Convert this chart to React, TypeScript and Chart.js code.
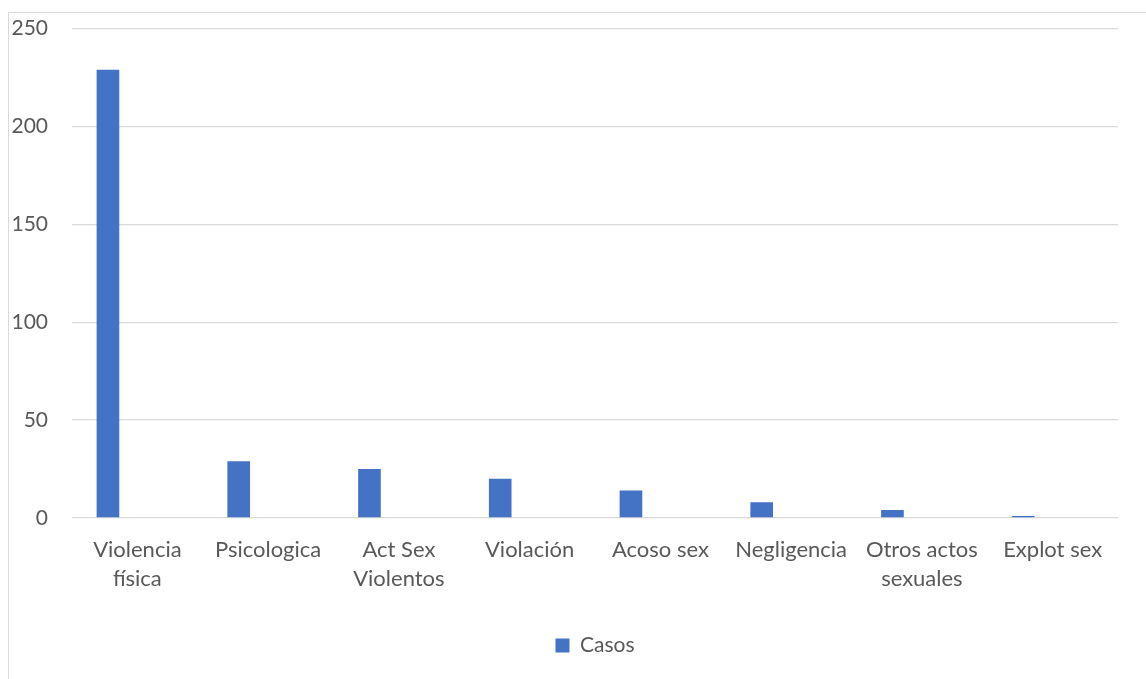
import React, { useEffect, useRef } from "react";
import { Chart, registerables } from "chart.js";

Chart.register(...registerables);

const categories: (string | string[])[] = [
  ["Violencia", "física"],
  "Psicologica",
  ["Act Sex", "Violentos"],
  "Violación",
  "Acoso sex",
  "Negligencia",
  ["Otros actos", "sexuales"],
  "Explot sex",
];
const casos: number[] = [229, 29, 25, 20, 14, 8, 4, 1];
const emptySeries: (number | null)[] = [null, null, null, null, null, null, null, null];
const yTicks: number[] = [0, 50, 100, 150, 200, 250];

const FONT = "Lato, sans-serif";
const TEXT = "#595959";
const GRID = "#d9d9d9";

export default function App() {
  const ref = useRef<HTMLCanvasElement>(null);
  useEffect(() => {
    if (!ref.current) return;
    const chart = new Chart(ref.current, {
      type: "bar",
      data: {
        labels: categories,
        datasets: [
          {
            label: "Casos",
            data: casos,
            backgroundColor: "#4472c4",
            borderWidth: 0,
            categoryPercentage: 0.9,
            barPercentage: 0.385,
          },
          {
            label: "",
            data: emptySeries,
            backgroundColor: "#ed7d31",
            categoryPercentage: 0.9,
            barPercentage: 0.385,
          },
        ],
      },
      options: {
        animation: false,
        responsive: false,
        maintainAspectRatio: false,
        layout: { padding: { top: 0, right: 28, left: 0, bottom: 13 } },
        plugins: {
          tooltip: { enabled: false },
          legend: {
            position: "bottom",
            fullSize: false,
            labels: {
              filter: (item) => item.text !== "",
              boxWidth: 14,
              boxHeight: 14,
              color: TEXT,
              font: { family: FONT, size: 21 },
              padding: 33,
            },
          },
        },
        scales: {
          x: {
            grid: { display: false },
            border: { display: false },
            ticks: {
              color: TEXT,
              font: { family: FONT, size: 22, lineHeight: 1.32 },
              maxRotation: 0,
              autoSkip: false,
              padding: 9,
            },
          },
          y: {
            min: 0,
            max: 250,
            afterFit: (s: any) => {
              s.width = 63;
            },
            afterBuildTicks: (s: any) => {
              s.ticks = yTicks.map((v) => ({ value: v }));
            },
            grid: { color: GRID, lineWidth: 1.3, drawTicks: false },
            border: { display: false },
            ticks: {
              color: TEXT,
              font: { family: FONT, size: 21 },
              padding: 24,
            },
          },
        },
      },
    });
    return () => chart.destroy();
  }, []);
  return (
    <div
      style={{
        position: "fixed",
        left: 8,
        top: 12,
        width: 1138,
        height: 667,
        borderLeft: `1px solid ${GRID}`,
        borderTop: `1px solid ${GRID}`,
        background: "#fff",
      }}
    >
      <canvas
        ref={ref}
        width={1137}
        height={687}
        style={{ display: "block", position: "absolute", left: 0, top: -21 }}
      />
    </div>
  );
}
